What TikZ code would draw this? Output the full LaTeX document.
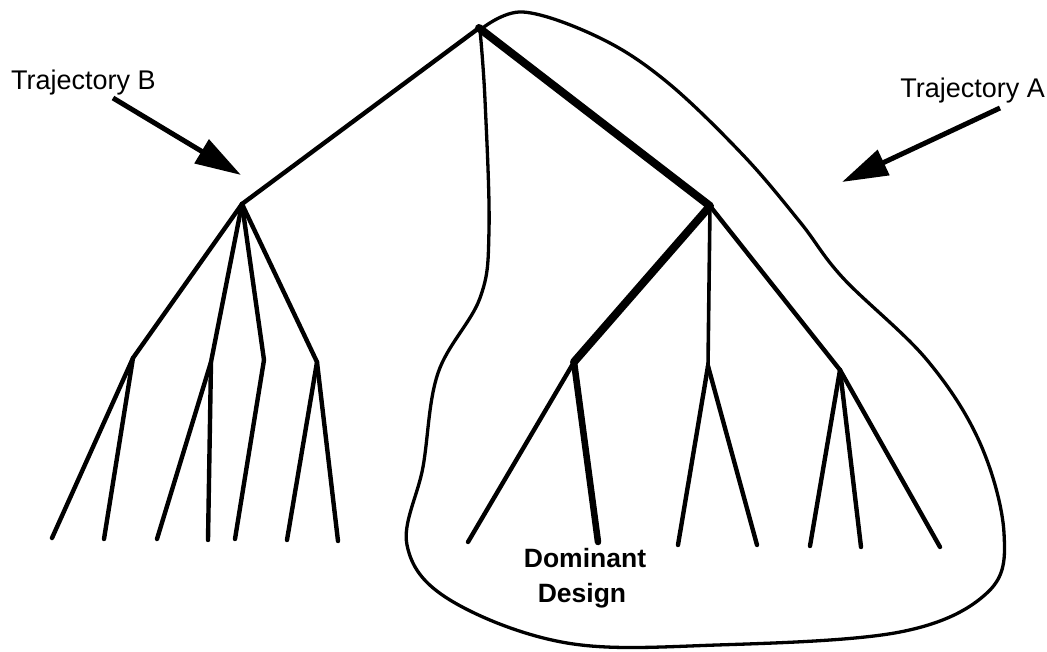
\documentclass[tikz,border=0pt]{standalone}
\usepackage{fontspec}
\setmainfont{Liberation Sans}
\usetikzlibrary{arrows.meta}
\begin{document}
\begin{tikzpicture}[x=1pt,y=-1pt,
  branch/.style={line width=4.4pt, line cap=round, line join=round},
  thinbranch/.style={line width=3.6pt, line cap=round, line join=round},
  mainpath/.style={line width=8pt, line cap=round, line join=round},
  mainleaf/.style={line width=6.5pt, line cap=round, line join=round},
  hull/.style={line width=3.3pt, line join=round},
  pointer/.style={line width=5pt, -{Triangle[length=46pt,width=27pt]}},
  lbl/.style={font=\fontsize{27}{32}\selectfont, inner sep=0pt},
  boldlbl/.style={font=\fontsize{26.5}{32}\selectfont\bfseries, inner sep=0pt}]
\useasboundingbox (0,0) rectangle (1047,652);
% tree nodes
\coordinate (root) at (479,28);
\coordinate (L) at (242,204);
\coordinate (M) at (710,206);
\coordinate (LL) at (133,358);
\coordinate (LLa) at (52,538);
\coordinate (LLb) at (104,539);
\coordinate (LM) at (211,362);
\coordinate (LMa) at (157,539);
\coordinate (LMb) at (208,540);
\coordinate (LK) at (264,360);
\coordinate (LKa) at (235,539);
\coordinate (LR) at (317,362);
\coordinate (LRa) at (287,540);
\coordinate (LRb) at (338,541);
\coordinate (MD) at (574,362);
\coordinate (MDa) at (468,542);
\coordinate (MDb) at (598,542);
\coordinate (MV) at (708,366);
\coordinate (MVa) at (678,545);
\coordinate (MVb) at (757,545);
\coordinate (MR) at (840,370);
\coordinate (MRa) at (810,546);
\coordinate (MRb) at (861,547);
\coordinate (MRc) at (940,547);
% enclosing curve (trajectory A)
\draw[hull] plot[smooth, tension=0.6] coordinates {
 (480,30) (523,12) (600,38) (667,82) (743,155) (800,222) (843,278)
 (927,360) (980,443) (1004,533) (988,592) (900,632) (717,645)
 (567,643) (450,600) (407,545) (423,467) (438,373) (480,298) (489,230)
 (485,100) (480,30)};
% left subtree
\draw[branch] (root) -- (L);
\draw[branch] (L) -- (LL) -- (LLa);
\draw[branch] (LL) -- (LLb);
\draw[branch] (L) -- (LM) -- (LMa);
\draw[branch] (LM) -- (LMb);
\draw[branch] (L) -- (LK) -- (LKa);
\draw[branch] (L) -- (LR) -- (LRa);
\draw[branch] (LR) -- (LRb);
% right subtree
\draw[mainpath] (root) -- (M) -- (MD);
\draw[branch] (MD) -- (MDa);
\draw[mainleaf] (MD) -- (MDb);
\draw[thinbranch] (M) -- (MV);
\draw[branch] (MV) -- (MVa);
\draw[branch] (MV) -- (MVb);
\draw[branch] (M) -- (MR) -- (MRa);
\draw[branch] (MR) -- (MRb);
\draw[branch] (MR) -- (MRc);
% labels and pointers
\node[lbl, anchor=base west] (tb) at (11,90) {Trajectory B};
\node[lbl, anchor=base east] (ta) at (1045,98) {Trajectory A};
\coordinate (tbTail) at (113,98);
\coordinate (tbTip) at (241,175);
\coordinate (taTail) at (1000,108);
\coordinate (taTip) at (842,182);
\draw[pointer] (tbTail) -- (tbTip);
\draw[pointer] (taTail) -- (taTip);
\node[boldlbl, anchor=base] (dom) at (585,567) {Dominant};
\node[boldlbl, anchor=base] (des) at (582,602) {Design};
\end{tikzpicture}
\end{document}
